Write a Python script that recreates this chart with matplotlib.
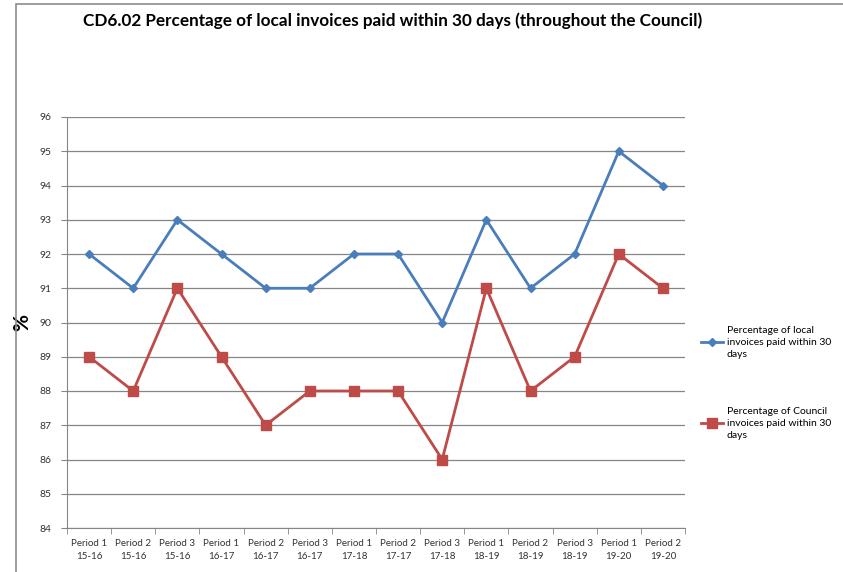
import numpy as np
import matplotlib.pyplot as plt
from matplotlib.patches import Rectangle

periods = ['Period 1\n15-16', 'Period 2\n15-16', 'Period 3\n15-16', 'Period 1\n16-17',
           'Period 2\n16-17', 'Period 3\n16-17', 'Period 1\n17-18', 'Period 2\n17-17',
           'Period 3\n17-18', 'Period 1\n18-19', 'Period 2\n18-19', 'Period 3\n18-19',
           'Period 1\n19-20', 'Period 2\n19-20']
local_pct = [92, 91, 93, 92, 91, 91, 92, 92, 90, 93, 91, 92, 95, 94]
council_pct = [89, 88, 91, 89, 87, 88, 88, 88, 86, 91, 88, 89, 92, 91]

plt.rcParams['font.family'] = ['Lato', 'DejaVu Sans']

fig = plt.figure(figsize=(8.43, 5.72), dpi=100)
fig.patches.append(Rectangle((16 / 843, -0.01), 1.0, 1 - 4 / 572 + 0.01, transform=fig.transFigure,
                             fill=False, edgecolor='#8c8c8c', linewidth=1.2))

ax = fig.add_axes([67 / 843, 44 / 572, (685 - 67) / 843, (528 - 117) / 572])
x = np.arange(len(periods))
ax.plot(x, local_pct, color='#4a7ebb', marker='D', markersize=4.5, linewidth=2,
        label='Percentage of local\ninvoices paid within 30\ndays')
ax.plot(x, council_pct, color='#be4b48', marker='s', markersize=6.5, linewidth=2,
        label='Percentage of Council\ninvoices paid within 30\ndays')

ax.set_xlim(-0.5, len(periods) - 0.5)
ax.set_ylim(84, 96)
ax.set_yticks(range(84, 97))
ax.set_xticks(x)
ax.set_xticklabels(periods, fontsize=7, color='#333333', linespacing=1.6)
ax.set_xticks(np.arange(-0.5, len(periods)), minor=True)
ax.tick_params(axis='x', which='major', length=0, pad=8)
ax.tick_params(axis='x', which='minor', length=4, color='#868686', direction='out')
ax.tick_params(axis='y', length=4, color='#868686', labelsize=7.5, labelcolor='#333333', pad=7)
ax.grid(axis='y', color='#868686', linewidth=0.9)
ax.set_axisbelow(True)
for side in ['top', 'right']:
    ax.spines[side].set_visible(False)
for side in ['left', 'bottom']:
    ax.spines[side].set_color('#868686')
ax.set_ylabel('%', fontsize=15, fontweight='bold')
ax.yaxis.set_label_coords(-0.057, 0.5)

leg = ax.legend(loc='upper left', bbox_to_anchor=(1.01, 0.515), frameon=False, fontsize=7.5,
                handlelength=2.2, handletextpad=0.3, labelspacing=4.6)
for t in leg.get_texts():
    t.set_linespacing(1.45)

fig.text(83 / 843, 1 - 21 / 572, 'CD6.02 Percentage of local invoices paid within 30 days (throughout the Council)',
         fontsize=12.3, fontweight='bold', va='center', ha='left')

fig.savefig('out.png', dpi=100)
